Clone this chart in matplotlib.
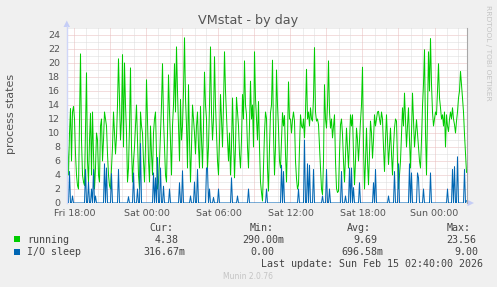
import numpy as np
import matplotlib
matplotlib.use('Agg')
import matplotlib.pyplot as plt
from matplotlib.patches import Polygon, Rectangle

# ---------------- data (5-minute samples, Fri 17:20 -> Sun 02:40) ----------------
start_time = '2026-02-13T17:20'
end_time = '2026-02-15T02:40'
step_minutes = 5

running = [
    12.5, 8, 4, 10, 13.5, 6, 13, 13.8, 12, 7, 4, 2.5, 2, 12, 21.3, 9, 4, 3, 2.5, 11,
    18.6, 6, 3, 9, 12.8, 4, 13, 7, 2, 5, 10, 9, 4, 3, 11, 12, 6, 9, 13, 12,
    11, 7, 4, 2.5, 2, 5, 8, 13, 10, 7, 9.5, 14, 20.6, 15, 9, 12, 21.2, 8, 20, 14,
    10, 3, 5, 11, 19.3, 8, 3, 6, 8, 11, 14, 9, 4, 2, 13, 11, 10, 6, 3, 8,
    17.6, 12, 6, 3, 11, 7, 4, 10, 12, 13, 7, 2, 3, 6, 10, 14, 19.9, 12, 8, 4,
    3, 10, 18.3, 13, 8.8, 4, 11, 14, 19.9, 13, 22.3, 16, 11, 6, 14.8, 9, 11, 16, 23.6, 15,
    11, 5, 16.9, 9, 3, 8, 14, 12, 10, 7, 11, 13, 8, 5, 13.8, 9, 5, 11, 18.7, 14,
    12, 5, 8, 14, 22.3, 13, 9, 12, 20.9, 14, 10, 6, 4, 9, 15.5, 12, 8, 14, 21.6, 16,
    12.5, 9, 6, 10, 4, 8, 15, 9, 3.6, 8, 15.1, 13, 11, 7, 5, 9, 15.5, 12, 20.3, 14,
    12.6, 8, 5, 11, 17.4, 12, 14, 8, 21.6, 15, 12, 9, 14.5, 8, 3, 1.5, 0.29, 5, 10, 13,
    12.1, 5, 1.7, 8, 12.9, 14, 20.4, 10, 4, 8, 19, 14, 10.7, 6, 5, 9, 12.9, 11, 12.5, 7,
    3, 9, 17.3, 12, 12, 10, 11.9, 13, 11.7, 6, 3.5, 2, 2.6, 8, 12.6, 11, 10.7, 12, 9.3, 13,
    19.1, 12, 13, 11, 13.6, 12, 11.7, 15, 22.2, 13, 11.7, 12, 11.2, 8, 5, 2, 1.2, 6, 16.9, 12,
    10.7, 14, 20.3, 13, 10.7, 12, 9.3, 11, 12.6, 6, 2.1, 1.5, 1.7, 7, 11.2, 12, 9.8, 6, 3, 7,
    10.7, 8, 5, 9, 12.6, 11, 12.6, 7, 2.6, 6, 10.7, 9, 6, 9, 11.7, 14, 19.4, 8, 2, 6,
    10.7, 6, 2.6, 7, 11.7, 10, 6.4, 9, 12.6, 11, 12, 13, 13.1, 12, 11.2, 13, 12, 8, 4.5, 9,
    12.6, 9, 5.5, 8, 10.7, 7, 4, 8, 10.7, 12, 11.7, 6, 2, 4, 6, 10, 13.6, 11, 15.7, 12,
    8, 11, 13.6, 9, 5, 10, 15.7, 12, 8, 10, 11.9, 10, 8, 6, 5, 9, 13.8, 17, 21.9, 10,
    4, 13, 21.6, 16, 23.5, 17, 13, 11, 12, 13, 12.6, 16, 19.9, 15, 13.6, 12, 12.6, 11, 13, 8,
    12.6, 11, 10.2, 12, 13, 12, 13.6, 12, 11.2, 10, 11.7, 13, 15, 16, 18.8, 17, 15, 13, 9.8, 7,
    4.38,
]

# I/O sleep is zero except for short spikes: sample index -> value
io_spike_index = [3, 6, 19, 22, 25, 27, 29, 38, 40, 45, 52, 62, 67, 71, 74, 87, 89, 91, 94, 97,
                  103, 113, 116, 124, 128, 131, 140, 141, 143, 147, 152, 165, 171, 182, 200, 215,
                  217, 232, 238, 241, 243, 247, 256, 260, 263, 275, 279, 283, 285, 287, 293, 307,
                  309, 322, 328, 332, 343, 345, 351, 352, 357, 364, 381, 386, 388, 391, 398, 400]
io_spike_value = [4.5, 1, 4.8, 3, 2, 4.8, 1, 5.6, 5, 4.2, 4.8, 0.9, 4.3, 2, 8.5, 4.3, 3.6, 6.5, 5, 2.4,
                  2, 2.9, 4.6, 1, 3, 4.8, 5, 5, 2, 0.8, 2, 3.6, 1, 2, 2, 5.4,
                  4.5, 2, 9, 5.6, 5.4, 4.8, 1, 4.8, 2, 4.5, 1, 5, 5, 2.2, 2.9, 2.9,
                  4.8, 1, 4.5, 5.6, 5.6, 4.3, 4.3, 3.6, 2, 4.3, 2, 4.8, 5.2, 6.6, 4.8, 0.32]

series_names = ['running', 'I/O sleep']
series_colors = ['#00CC00', '#0066B3']
stat_headers = ['Cur:', 'Min:', 'Avg:', 'Max:']
stats_running = ['4.38', '290.00m', '9.69', '23.56']
stats_io = ['316.67m', '0.00', '696.58m', '9.00']

x_tick_times = ['2026-02-13T18:00', '2026-02-14T00:00', '2026-02-14T06:00',
                '2026-02-14T12:00', '2026-02-14T18:00', '2026-02-15T00:00']
x_tick_labels = ['Fri 18:00', 'Sat 00:00', 'Sat 06:00', 'Sat 12:00', 'Sat 18:00', 'Sun 00:00']
y_ticks = [0, 2, 4, 6, 8, 10, 12, 14, 16, 18, 20, 22, 24]
y_max = 25

io_sleep = np.zeros(len(running))
io_sleep[io_spike_index] = io_spike_value

# ---------------- figure ----------------
W, H = 497, 287
fig = plt.figure(figsize=(W / 100, H / 100), dpi=100, facecolor='#F0F0F0')

def fx(x):
    return x / W

def fy(y):
    return 1 - y / H

ax = fig.add_axes([fx(66.5), fy(203), 400 / W, 175 / H])
ax.set_facecolor('white')

t0 = np.datetime64(start_time)
t1 = np.datetime64(end_time)
times = t0 + np.arange(len(running)) * np.timedelta64(step_minutes, 'm')

# grid
minor_col = '#dcdcdc'
major_col = '#e8bcbc'
dots = (0, (1, 1))
for v in range(1, y_max + 1):
    ax.axhline(v, color=major_col if v % 2 == 0 else minor_col, lw=0.72,
               ls=dots, zorder=1)
hour = np.datetime64('2026-02-13T18:00')
while hour < t1:
    hh = int(str(hour)[11:13])
    ax.axvline(hour, color=major_col if hh % 3 == 0 else minor_col, lw=0.72,
               ls=dots, zorder=1)
    hour = hour + np.timedelta64(1, 'h')

# bottom axis line
ax.axhline(0, color='#CFD6F8', lw=1.0, zorder=2)

ax.plot(times, running, color=series_colors[0], lw=0.72, zorder=3)
ax.plot(times, io_sleep, color=series_colors[1], lw=0.72, zorder=4)

ax.set_xlim(t0, t1)
ax.set_ylim(0, y_max)
ax.set_xticks([np.datetime64(t) for t in x_tick_times])
ax.set_xticklabels(x_tick_labels)
ax.set_yticks(y_ticks)
ax.set_yticklabels([str(v) for v in y_ticks])
ax.tick_params(axis='both', length=0, labelsize=6.8, labelcolor='#555555')
ax.tick_params(axis='x', pad=4)
ax.tick_params(axis='y', pad=4.5)
for s in ax.spines.values():
    s.set_visible(False)

# left axis + arrows, right frame line
fig.add_artist(plt.Line2D([fx(66.8), fx(66.8)], [fy(203), fy(26)], color='#CFD6F8', lw=1.0))
fig.add_artist(Polygon([(fx(66.8), fy(20.5)), (fx(63.5), fy(27)), (fx(70), fy(27))],
                       closed=True, facecolor='#C5CDF6', edgecolor='none'))
fig.add_artist(Polygon([(fx(474), fy(203)), (fx(467.5), fy(199.8)), (fx(467.5), fy(206.2))],
                       closed=True, facecolor='#C5CDF6', edgecolor='none'))
fig.add_artist(plt.Line2D([fx(466.5), fx(466.5)], [fy(203), fy(28)], color='#a8a8a8', lw=0.8))

# texts
fig.text(fx(248), fy(24), 'VMstat - by day', ha='center', va='baseline',
         fontsize=9.2, color='#555555')
fig.text(fx(11), fy(114), 'process states', rotation=90, ha='center', va='center',
         fontsize=8, color='#555555')
fig.text(fx(488), fy(5), 'RRDTOOL / TOBI OETIKER', rotation=270, ha='center', va='top',
         fontsize=5.4, color='#c4c4c4')

mono = dict(family='DejaVu Sans Mono', fontsize=7.2, color='#444444', va='baseline')
header_x = [149.3, 249.3, 346.7, 446.7]
for hx, htxt in zip(header_x, stat_headers):
    fig.text(fx(hx), fy(230.7), htxt, **mono)

row1_x = [155, 242.7, 353.3, 446.7]
row2_x = [143.3, 250, 341.7, 454]
rows = [(242.7, row1_x, stats_running), (255.2, row2_x, stats_io)]
for k, (by, xs, vals) in enumerate(rows):
    fig.add_artist(Rectangle((fx(14), fy(by - 0.5)), 6 / W, 6 / H,
                             facecolor=series_colors[k], edgecolor='none'))
    fig.text(fx(27), fy(by), series_names[k], **mono)
    for vx, vt in zip(xs, vals):
        fig.text(fx(vx), fy(by), vt, **mono)

fig.text(fx(261), fy(266.8), 'Last update: Sun Feb 15 02:40:00 2026', **mono)
fig.text(fx(248), fy(279), 'Munin 2.0.76', ha='center', va='baseline',
         fontsize=5.5, color='#c4c4c4')

fig.savefig('out.png', dpi=100, facecolor=fig.get_facecolor())
